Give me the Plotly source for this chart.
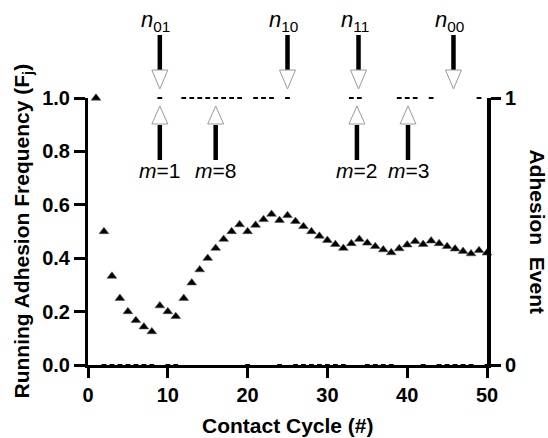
import plotly.graph_objects as go

# ---------------- data ----------------
cycles = list(range(1, 51))
running_freq = [1.0, 0.5, 0.333, 0.25, 0.2, 0.167, 0.143, 0.125, 0.222, 0.2,
                0.182, 0.25, 0.308, 0.357, 0.4, 0.4375, 0.471, 0.5, 0.526, 0.5,
                0.524, 0.545, 0.565, 0.542, 0.56, 0.538, 0.519, 0.5, 0.483, 0.467,
                0.452, 0.4375, 0.455, 0.471, 0.457, 0.444, 0.432, 0.421, 0.436, 0.45,
                0.463, 0.452, 0.465, 0.455, 0.444, 0.435, 0.426, 0.417, 0.429, 0.42]
adhesion_events = [1, 0, 0, 0, 0, 0, 0, 0, 1, 0,
                   0, 1, 1, 1, 1, 1, 1, 1, 1, 0,
                   1, 1, 1, 0, 1, 0, 0, 0, 0, 0,
                   0, 0, 1, 1, 0, 0, 0, 0, 1, 1,
                   1, 0, 1, 0, 0, 0, 0, 0, 1, 0]
x_ticks = [0, 10, 20, 30, 40, 50]
y_ticks = [0.0, 0.2, 0.4, 0.6, 0.8, 1.0]
y2_ticks = [0, 1]
y2_ticktext = ["0", "1"]

down_arrow_cycles = [9, 25, 33.9, 45.8]
down_arrow_labels = ["<i>n</i><sub>01</sub>", "<i>n</i><sub>10</sub>",
                     "<i>n</i><sub>11</sub>", "<i>n</i><sub>00</sub>"]
up_arrow_cycles = [9, 16, 33.7, 40.1]
up_arrow_labels = ["<i>m</i>=1", "<i>m</i>=8", "<i>m</i>=2", "<i>m</i>=3"]

# ---------------- layout geometry ----------------
W, H = 548, 438
ML, MR, MT, MB = 88, 61, 98, 73
PLOT_H = H - MT - MB
FONT = "Liberation Sans"


def yp(py):
    """pixel row -> paper y"""
    return (H - MB - py) / PLOT_H


fig = go.Figure()

fig.add_trace(go.Scatter(
    x=cycles, y=running_freq, mode="markers", yaxis="y",
    marker=dict(symbol="triangle-up", size=8.5, color="black",
                line=dict(width=0.6, color="#555")),
    cliponaxis=False, showlegend=False))

fig.add_trace(go.Scatter(
    x=cycles, y=adhesion_events, mode="markers", yaxis="y2",
    marker=dict(symbol="line-ew", size=3.4, color="black",
                line=dict(width=2, color="black")),
    cliponaxis=False, showlegend=False))

shapes = []
annotations = []
HALF_W = 1.0  # half width of arrow heads in cycle units
for c, lab in zip(down_arrow_cycles, down_arrow_labels):
    shapes.append(dict(type="line", xref="x", yref="paper",
                       x0=c, x1=c, y0=yp(35), y1=yp(71),
                       line=dict(color="black", width=4.5)))
    shapes.append(dict(type="path", xref="x", yref="paper",
                       path=f"M {c-HALF_W},{yp(70)} L {c+HALF_W},{yp(70)} L {c},{yp(89)} Z",
                       fillcolor="white", line=dict(color="#9a9a9a", width=1)))
    annotations.append(dict(x=c, y=yp(21), xref="x", yref="paper", text=lab,
                            showarrow=False, xshift=-4, yanchor="middle",
                            font=dict(family=FONT, size=22, color="black")))
for c, lab in zip(up_arrow_cycles, up_arrow_labels):
    shapes.append(dict(type="line", xref="x", yref="paper",
                       x0=c, x1=c, y0=yp(125), y1=yp(160),
                       line=dict(color="black", width=4.5)))
    shapes.append(dict(type="path", xref="x", yref="paper",
                       path=f"M {c-HALF_W},{yp(124)} L {c+HALF_W},{yp(124)} L {c},{yp(106)} Z",
                       fillcolor="white", line=dict(color="#9a9a9a", width=1)))
    annotations.append(dict(x=c, y=yp(170), xref="x", yref="paper", text=lab,
                            showarrow=False, yanchor="middle",
                            font=dict(family=FONT, size=21, color="black")))

# axis titles
annotations.append(dict(x=0.5, y=0, xref="paper", yref="paper",
                        text="Contact Cycle (#)", showarrow=False,
                        yanchor="middle", yshift=-60,
                        font=dict(family=FONT, size=21, color="black", weight="bold")))
annotations.append(dict(x=0, y=0.5, xref="paper", yref="paper",
                        text="Running Adhesion Frequency (F<sub>j</sub>)",
                        showarrow=False, textangle=-90, xanchor="center",
                        xshift=-66,
                        font=dict(family=FONT, size=21, color="black", weight="bold")))
annotations.append(dict(x=1, y=0.5, xref="paper", yref="paper",
                        text="Adhesion\u00a0 Event",
                        showarrow=False, textangle=90, xanchor="center",
                        xshift=50,
                        font=dict(family=FONT, size=21, color="black", weight="bold")))

tickfont = dict(family=FONT, size=20, color="black", weight="bold")

fig.update_layout(
    width=W, height=H,
    margin=dict(l=ML, r=MR, t=MT, b=MB, pad=0),
    plot_bgcolor="white", paper_bgcolor="white",
    shapes=shapes, annotations=annotations,
    xaxis=dict(range=[0, 50], tickvals=x_ticks, showgrid=False, zeroline=False,
               showline=True, linewidth=3, linecolor="black",
               ticks="outside", ticklen=10, tickwidth=3, tickcolor="black",
               tickfont=tickfont),
    yaxis=dict(range=[0, 1], tickvals=y_ticks, tickformat=".1f",
               showgrid=False, zeroline=False,
               showline=True, linewidth=3, linecolor="black",
               ticks="outside", ticklen=11, tickwidth=3, tickcolor="black",
               tickfont=tickfont),
    yaxis2=dict(range=[0, 1], overlaying="y", side="right",
                tickvals=y2_ticks, ticktext=y2_ticktext,
                showgrid=False, zeroline=False,
                showline=True, linewidth=4, linecolor="black",
                ticks="outside", ticklen=10, tickwidth=3, tickcolor="black",
                tickfont=tickfont),
)

fig.write_html("out.html")
